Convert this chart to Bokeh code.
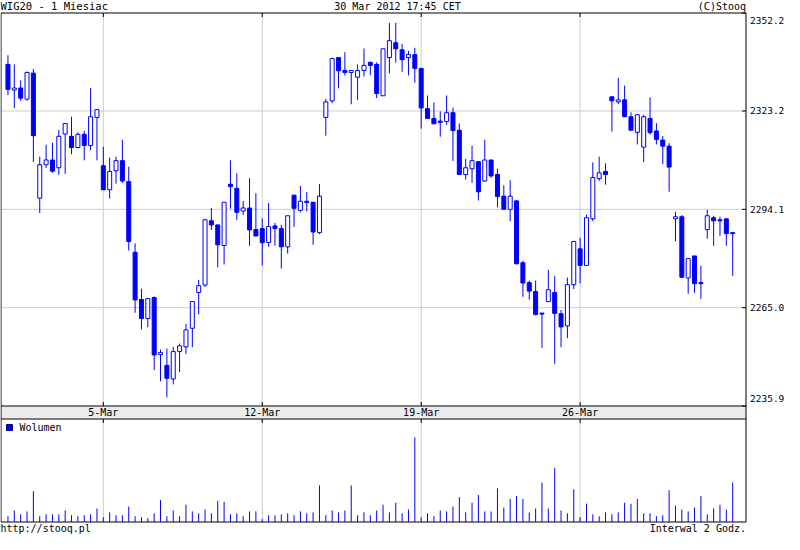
from bokeh.plotting import figure
from bokeh.models import Range1d, ColumnDataSource
from bokeh.core.properties import value
from bokeh.embed import file_html
from bokeh.resources import INLINE

# ---------------- data (WIG20, 2-hour candles, 29 Feb - 30 Mar 2012) ----------------
opens = [2337.0, 2329.4, 2330.0, 2326.7, 2334.4, 2297.4, 2307.3, 2308.7, 2306.4, 2316.4,
         2315.7, 2312.4, 2316.3, 2313.0, 2321.3, 2307.0, 2299.9, 2305.5, 2308.5, 2302.3,
         2281.4, 2267.4, 2261.8, 2268.0, 2251.1, 2247.9, 2243.9, 2252.0, 2253.4, 2258.9,
         2269.5, 2271.7, 2290.7, 2289.5, 2283.4, 2301.5, 2300.3, 2293.6, 2294.5, 2288.1,
         2288.4, 2284.3, 2289.2, 2288.4, 2283.0, 2298.3, 2293.8, 2296.5, 2296.2, 2287.2,
         2321.3, 2326.2, 2339.0, 2335.2, 2334.6, 2333.2, 2335.2, 2337.6, 2337.0, 2327.7,
         2339.0, 2343.4, 2341.3, 2339.0, 2339.9, 2335.8, 2323.9, 2321.0, 2320.2, 2320.1,
         2322.7, 2317.5, 2304.4, 2306.1, 2308.2, 2302.5, 2308.7, 2304.4, 2298.0, 2294.1,
         2296.6, 2278.3, 2272.4, 2269.8, 2263.4, 2266.8, 2269.5, 2263.2, 2259.6, 2271.8,
         2282.4, 2277.5, 2291.3, 2303.2, 2305.3, 2327.4, 2325.9, 2326.5, 2321.5, 2316.9,
         2312.5, 2321.0, 2317.3, 2314.6, 2312.8, 2291.3, 2291.9, 2273.8, 2280.3, 2272.4,
         2288.1, 2291.6, 2291.0, 2291.3, 2287.2]
highs = [2339.7, 2337.0, 2332.3, 2334.9, 2335.6, 2309.7, 2313.2, 2313.8, 2317.6, 2319.5,
         2321.5, 2316.9, 2317.3, 2330.0, 2323.6, 2312.6, 2309.4, 2309.7, 2314.7, 2306.7,
         2284.0, 2270.6, 2267.7, 2268.3, 2252.6, 2252.9, 2253.4, 2254.4, 2260.2, 2266.8,
         2273.2, 2291.3, 2294.5, 2289.5, 2296.2, 2308.6, 2304.8, 2296.6, 2303.3, 2298.9,
         2291.4, 2296.0, 2290.1, 2289.5, 2292.2, 2298.3, 2301.0, 2299.2, 2296.2, 2301.6,
         2326.8, 2339.0, 2339.0, 2340.6, 2335.2, 2337.0, 2341.7, 2337.8, 2337.6, 2341.6,
         2349.3, 2349.3, 2343.1, 2341.0, 2341.9, 2335.8, 2327.8, 2325.7, 2323.1, 2327.8,
         2324.2, 2319.5, 2309.0, 2312.9, 2308.2, 2314.7, 2308.7, 2306.1, 2301.2, 2302.7,
         2296.9, 2278.9, 2273.0, 2273.0, 2263.4, 2276.2, 2274.3, 2264.3, 2273.9, 2284.6,
         2285.7, 2292.5, 2308.0, 2309.7, 2307.7, 2327.4, 2333.0, 2330.7, 2322.8, 2322.1,
         2322.1, 2327.2, 2319.6, 2315.8, 2313.7, 2293.4, 2292.4, 2279.7, 2280.3, 2277.4,
         2293.9, 2292.2, 2291.9, 2291.3, 2287.2]
lows = [2327.9, 2324.1, 2326.2, 2326.2, 2308.1, 2293.0, 2306.3, 2304.9, 2304.3, 2304.6,
        2310.4, 2312.1, 2308.6, 2311.6, 2308.6, 2299.9, 2297.3, 2301.7, 2301.9, 2281.9,
        2263.5, 2258.6, 2259.2, 2246.5, 2243.2, 2238.5, 2242.3, 2245.9, 2251.3, 2253.3,
        2263.0, 2271.1, 2288.0, 2276.9, 2277.8, 2294.3, 2290.9, 2292.4, 2283.3, 2286.2,
        2277.5, 2283.0, 2283.3, 2276.6, 2281.0, 2288.9, 2293.2, 2293.5, 2283.6, 2286.8,
        2315.9, 2325.5, 2329.9, 2333.7, 2325.2, 2326.4, 2333.4, 2333.8, 2327.0, 2327.7,
        2334.3, 2337.5, 2334.8, 2333.7, 2331.6, 2318.0, 2321.0, 2319.4, 2315.6, 2319.1,
        2308.4, 2304.4, 2302.9, 2301.9, 2296.7, 2302.2, 2303.4, 2294.7, 2294.1, 2290.6,
        2277.8, 2268.2, 2267.4, 2262.7, 2253.1, 2266.8, 2248.4, 2253.3, 2256.0, 2270.5,
        2272.2, 2277.5, 2290.6, 2302.5, 2301.4, 2317.1, 2325.3, 2321.5, 2317.5, 2313.3,
        2308.1, 2316.2, 2313.3, 2307.5, 2299.3, 2284.6, 2273.8, 2269.1, 2269.4, 2267.6,
        2285.4, 2283.3, 2286.2, 2283.3, 2274.4]
closes = [2329.6, 2330.0, 2327.0, 2334.6, 2315.9, 2307.3, 2308.7, 2305.4, 2315.7, 2319.5,
          2312.4, 2316.3, 2313.0, 2321.5, 2323.6, 2299.9, 2305.3, 2308.5, 2302.5, 2284.6,
          2267.3, 2261.8, 2267.7, 2251.0, 2251.7, 2244.1, 2252.0, 2253.7, 2258.4, 2266.8,
          2271.5, 2291.0, 2289.5, 2283.6, 2296.2, 2300.8, 2293.2, 2294.5, 2288.0, 2286.2,
          2284.2, 2289.0, 2288.4, 2283.0, 2292.2, 2294.4, 2296.5, 2296.1, 2287.4, 2298.0,
          2325.9, 2338.7, 2335.1, 2334.6, 2335.2, 2335.2, 2336.7, 2336.7, 2328.4, 2341.6,
          2344.0, 2341.6, 2338.4, 2339.9, 2335.8, 2324.1, 2321.0, 2319.4, 2319.8, 2322.7,
          2317.4, 2304.4, 2306.4, 2308.5, 2299.3, 2308.7, 2304.0, 2297.9, 2294.1, 2298.0,
          2278.0, 2272.3, 2269.9, 2263.0, 2263.1, 2270.3, 2263.3, 2259.3, 2271.8, 2284.6,
          2277.5, 2291.6, 2303.5, 2304.9, 2304.4, 2326.2, 2326.5, 2321.5, 2317.5, 2322.1,
          2321.5, 2316.8, 2314.8, 2312.8, 2306.6, 2291.9, 2274.0, 2279.5, 2272.1, 2272.1,
          2292.2, 2290.7, 2290.7, 2286.9, 2286.9]
volumes = [6, 12, 8, 11, 32, 6, 8, 8, 8, 12,
           7, 6, 7, 8, 14, 5, 10, 7, 7, 16,
           6, 5, 4, 9, 23, 6, 12, 6, 18, 11,
           9, 13, 9, 22, 21, 8, 9, 6, 11, 11,
           3, 7, 7, 8, 9, 7, 11, 9, 10, 38,
           7, 12, 10, 12, 38, 7, 10, 7, 12, 18,
           10, 20, 9, 13, 88, 5, 9, 6, 12, 11,
           16, 26, 10, 20, 28, 11, 11, 35, 15, 24,
           27, 24, 10, 14, 41, 14, 56, 12, 9, 34,
           5, 19, 8, 6, 10, 8, 10, 20, 19, 24,
           9, 9, 6, 7, 33, 17, 13, 11, 15, 27,
           8, 14, 18, 13, 41]
price_ticks = [2235.9, 2265.0, 2294.1, 2323.2, 2352.2]
price_tick_labels = ["2235.9", "2265.0", "2294.1", "2323.2", "2352.2"]
week_start_idx = [15, 40, 65, 90]
week_labels = ["5-Mar", "12-Mar", "19-Mar", "26-Mar"]
title_left = "WIG20 - 1 Miesiac"
title_center = "30 Mar 2012 17:45 CET"
title_right = "(C)Stooq"
footer_left = "http://stooq.pl"
footer_right = "Interwal 2 Godz."
legend_label = "Wolumen"

idx = list(range(len(opens)))

# ---------------- layout constants (pixels in the figure) ----------------
W, H = 784, 534
FL, FR = 0.5, 745.5              # frame left / right
MT, MB = 12.5, 405.5             # price panel top / bottom
ST, VB = 418.5, 521.5            # volume panel top / bottom
IDX_L, IDX_R = -1.094, 116.094   # candle index at frame edges
P_TOP, P_BOT = price_ticks[-1], price_ticks[0]
VOL_TOP = 107                    # volume value at top of volume panel

BLUE = "#0000ff"
GRID = "#cccccc"
STRIP = "#ececec"
MONO = "DejaVu Sans Mono"

pxu = (IDX_R - IDX_L) / (FR - FL)
x_start = IDX_L - FL * pxu
x_end = x_start + W * pxu
ppx = (P_TOP - P_BOT) / (MB - MT)
y_end = P_TOP + MT * ppx
y_start = y_end - H * ppx
vpx = VOL_TOP / (VB - ST)
v_start = -(H - VB) * vpx
v_end = v_start + H * vpx


def xd(fx):
    return x_start + fx * pxu


def yp(fy):
    return y_end - fy * ppx


def fy_of(price):
    return MT + (P_TOP - price) / ppx


p = figure(width=W, height=H, x_range=Range1d(x_start, x_end), y_range=Range1d(y_start, y_end),
           output_backend="svg", toolbar_location=None, title=None,
           x_axis_location=None, y_axis_location=None, min_border=0,
           outline_line_color=None, background_fill_color="white", border_fill_color="white")
p.extra_y_ranges = {"vol": Range1d(v_start, v_end)}
p.xgrid.visible = False
p.ygrid.visible = False

# grid lines
gx = [xd(FL)] * 3
p.segment(x0=[xd(FL)] * 3, y0=price_ticks[1:4], x1=[xd(FR)] * 3, y1=price_ticks[1:4],
          line_color=GRID, line_width=1)
p.segment(x0=week_start_idx, y0=[yp(MT)] * 4, x1=week_start_idx, y1=[yp(VB)] * 4,
          line_color=GRID, line_width=1)

# date strip
p.quad(left=[xd(FL)], right=[xd(FR)], top=[yp(MB)], bottom=[yp(ST)], fill_color=STRIP, line_color=None)

# frame lines
hy = [yp(MT), yp(MB), yp(ST), yp(VB)]
p.segment(x0=[xd(FL)] * 4, y0=hy, x1=[xd(FR)] * 4, y1=hy, line_color="black", line_width=1)
p.segment(x0=[xd(FL), xd(FR)], y0=[yp(MT)] * 2, x1=[xd(FL), xd(FR)], y1=[yp(VB)] * 2,
          line_color="black", line_width=1)

# ticks (inside)
T = 4
p.segment(x0=[xd(FR - T)] * 5, y0=price_ticks, x1=[xd(FR)] * 5, y1=price_ticks, line_color="black")
for a, b in [(MT, MT + T), (MB - T, MB), (ST, ST + T)]:
    p.segment(x0=week_start_idx, y0=[yp(a)] * 4, x1=week_start_idx, y1=[yp(b)] * 4, line_color="black")

# candles
up = [c >= o for o, c in zip(opens, closes)]
src = ColumnDataSource(dict(
    x=idx, high=highs, low=lows,
    top=[max(o, c) for o, c in zip(opens, closes)],
    bottom=[min(o, c) for o, c in zip(opens, closes)],
    fill=["white" if u else BLUE for u in up],
))
p.segment(x0="x", y0="high", x1="x", y1="low", source=src, line_color=BLUE, line_width=1)
p.vbar(x="x", top="top", bottom="bottom", width=4 * pxu, source=src,
       fill_color="fill", line_color=BLUE, line_width=1)

# volume
p.segment(x0=idx, y0=[0] * len(idx), x1=idx, y1=volumes, y_range_name="vol",
          line_color=BLUE, line_width=1)

# legend
p.rect(x=[xd(9)], y=[yp(ST + 8.5)], width=6, height=6, width_units="screen", height_units="screen",
       fill_color=BLUE, line_color="#000080", line_width=1)
p.text(x=[xd(19)], y=[yp(ST + 8.5)], text=[legend_label], text_font=value(MONO),
       text_font_size=value("10px"), text_align="left", text_baseline="middle", text_color="black")

# header / footer
p.text(x=[xd(0)], y=[yp(5.5)], text=[title_left], text_font=value(MONO), text_font_size=value("10.5px"),
       text_align="left", text_baseline="middle", text_color="black")
p.text(x=[xd(397)], y=[yp(5.5)], text=[title_center], text_font=value(MONO), text_font_size=value("10px"),
       text_align="center", text_baseline="middle", text_color="black")
p.text(x=[xd(FR)], y=[yp(5.5)], text=[title_right], text_font=value(MONO), text_font_size=value("10px"),
       text_align="right", text_baseline="middle", text_color="black")
p.text(x=[xd(0)], y=[yp(527.5)], text=[footer_left], text_font=value(MONO), text_font_size=value("10px"),
       text_align="left", text_baseline="middle", text_color="black")
p.text(x=[xd(FR)], y=[yp(527.5)], text=[footer_right], text_font=value(MONO), text_font_size=value("10px"),
       text_align="right", text_baseline="middle", text_color="black")

# date labels
p.text(x=week_start_idx, y=[yp((MB + ST) / 2)] * 4, text=week_labels, text_font=value(MONO),
       text_font_size=value("10px"), text_align="center", text_baseline="middle", text_color="black")

# price labels (top and bottom ones kept inside the panel)
label_y = [yp(min(max(fy_of(v), MT + 7), MB - 7.5)) for v in price_ticks]
p.text(x=[xd(FR + 4)] * 5, y=label_y, text=price_tick_labels, text_font=value(MONO),
       text_font_size=value("9.5px"), text_align="left", text_baseline="middle", text_color="black")

open("out.html", "w").write(file_html(p, INLINE))
